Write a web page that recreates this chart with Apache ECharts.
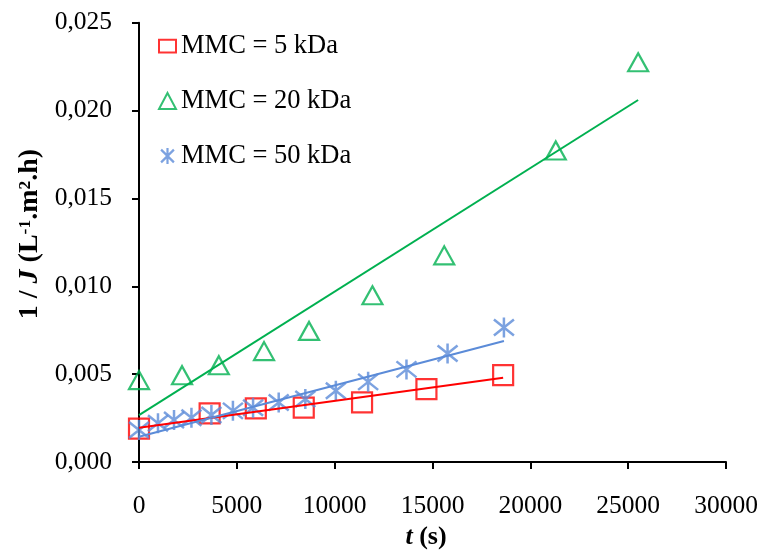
<!DOCTYPE html>
<html>
<head>
<meta charset="utf-8">
<script src="https://cdn.jsdelivr.net/npm/echarts@6/dist/echarts.min.js"></script>
<style>
  html, body { margin: 0; padding: 0; background: #ffffff; }
  #chart { width: 761px; height: 551px; }
</style>
</head>
<body>
<div id="chart"></div>
<script>
// Filtration time (s) and inverse flux 1/J (L^-1.m^2.h) for three membrane cut-offs
const seriesNames = ['MMC = 5 kDa', 'MMC = 20 kDa', 'MMC = 50 kDa'];

const t5 = [0, 3610, 5970, 8420, 11400, 14690, 18610];
const invJ5 = [0.0019, 0.00277, 0.00305, 0.00309, 0.00339, 0.00415, 0.00494];

const t20 = [0, 2200, 4080, 6390, 8690, 11930, 15600, 21300, 25510];
const invJ20 = [0.00466, 0.00494, 0.00551, 0.00631, 0.00746, 0.00949, 0.01176, 0.01773, 0.02275];

const t50 = [0, 970, 1790, 2680, 3700, 4800, 5830, 7140, 8500, 10060, 11710, 13670, 15770, 18650];
const invJ50 = [0.00182, 0.0022, 0.00239, 0.00252, 0.00267, 0.00291, 0.00309, 0.00339, 0.00358, 0.00405, 0.00456, 0.00527, 0.00618, 0.00765];

// Linear trend lines: end points (time, 1/J)
const trendT5 = [0, 18610];
const trendJ5 = [0.00195, 0.00479];
const trendT20 = [0, 25510];
const trendJ20 = [0.00267, 0.0206];
const trendT50 = [0, 18650];
const trendJ50 = [0.00144, 0.00689];

// Axis ranges and tick steps
const xMin = 0, xMax = 30000, xStep = 5000;
const yMin = 0, yMax = 0.025, yStep = 0.005;

const RED = '#ff0000';
const GREEN = '#00b050';
const BLUE = '#5b8bd8';
const FONT = '"Liberation Serif", "Times New Roman", serif';

const pairs = (xs, ys) => xs.map((x, i) => [x, ys[i]]);

const ASTERISK = 'path://M10,0 L10,20 M2,2 L18,18 M2,18 L18,2';

function scatter(name, xs, ys, symbol, size, color, stroke) {
  return {
    name: name,
    type: 'scatter',
    data: pairs(xs, ys),
    symbol: symbol,
    symbolSize: size,
    itemStyle: { color: 'rgba(0,0,0,0)', borderColor: color, borderWidth: stroke },
    emphasis: { disabled: true },
    z: 3
  };
}

function trend(xs, ys, color) {
  return {
    type: 'line',
    data: pairs(xs, ys),
    showSymbol: false,
    symbol: 'none',
    lineStyle: { color: color, width: 2 },
    emphasis: { disabled: true },
    silent: true,
    z: 4
  };
}

const chart = echarts.init(document.getElementById('chart'), null, { renderer: 'canvas' });

chart.setOption({
  animation: false,
  backgroundColor: '#ffffff',
  grid: { left: 139, right: 35, top: 22.7, bottom: 89, containLabel: false },
  legend: {
    orient: 'vertical',
    left: 158,
    top: 32.5,
    padding: 0,
    itemWidth: 17,
    itemHeight: 16,
    itemGap: 28,
    textStyle: { fontFamily: FONT, fontSize: 26.5, color: '#000', lineHeight: 26 },
    data: [
      { name: seriesNames[0], icon: 'path://M0,1 L20,1 L20,16 L0,16 Z', itemStyle: { color: 'rgba(0,0,0,0)', borderColor: RED, borderWidth: 2 } },
      { name: seriesNames[1], icon: 'triangle', itemStyle: { color: 'rgba(0,0,0,0)', borderColor: GREEN, borderWidth: 2 } },
      { name: seriesNames[2], icon: ASTERISK, itemStyle: { color: 'rgba(0,0,0,0)', borderColor: BLUE, borderWidth: 2.2 } }
    ]
  },
  xAxis: {
    type: 'value',
    min: xMin,
    max: xMax,
    interval: xStep,
    splitLine: { show: false },
    axisLine: { show: true, lineStyle: { color: '#000', width: 2 } },
    axisTick: { show: true, inside: false, length: 7, lineStyle: { color: '#000', width: 2 } },
    axisLabel: { fontFamily: FONT, fontSize: 25.5, color: '#000', margin: 31, formatter: v => String(v) }
  },
  yAxis: {
    type: 'value',
    min: yMin,
    max: yMax,
    interval: yStep,
    splitLine: { show: false },
    axisLine: { show: true, lineStyle: { color: '#000', width: 2 } },
    axisTick: { show: true, inside: false, length: 7, lineStyle: { color: '#000', width: 2 } },
    axisLabel: {
      fontFamily: FONT, fontSize: 25.5, color: '#000', margin: 27,
      formatter: v => v.toFixed(3).replace('.', ',')
    }
  },
  graphic: [
    {
      type: 'text',
      x: 30,
      y: 234,
      rotation: Math.PI / 2,
      style: {
        text: '{b|1 / }{bi|J}{b| (L}{sup|-1}{b|.m}{sup|2}{b|.h)}',
        align: 'center',
        verticalAlign: 'middle',
        rich: {
          b: { fontFamily: FONT, fontSize: 28, fontWeight: 'bold', fill: '#000', lineHeight: 30 },
          bi: { fontFamily: FONT, fontSize: 28, fontWeight: 'bold', fontStyle: 'italic', fill: '#000', lineHeight: 30 },
          sup: { fontFamily: FONT, fontSize: 17.5, fontWeight: 'bold', fill: '#000', lineHeight: 30, verticalAlign: 'top', padding: [1, 0, 0, 0] }
        }
      }
    },
    {
      type: 'text',
      x: 426,
      y: 537,
      style: {
        text: '{bi|t}{b| (s)}',
        align: 'center',
        verticalAlign: 'middle',
        rich: {
          b: { fontFamily: FONT, fontSize: 26, fontWeight: 'bold', fill: '#000' },
          bi: { fontFamily: FONT, fontSize: 26, fontWeight: 'bold', fontStyle: 'italic', fill: '#000' }
        }
      }
    }
  ],
  series: [
    scatter(seriesNames[0], t5, invJ5, 'rect', 20, RED, 2.2),
    scatter(seriesNames[1], t20, invJ20, 'triangle', [20, 18], GREEN, 2.2),
    scatter(seriesNames[2], t50, invJ50, ASTERISK, 20, BLUE, 2.5),
    trend(trendT5, trendJ5, RED),
    trend(trendT20, trendJ20, GREEN),
    trend(trendT50, trendJ50, BLUE)
  ]
});
</script>
</body>
</html>
